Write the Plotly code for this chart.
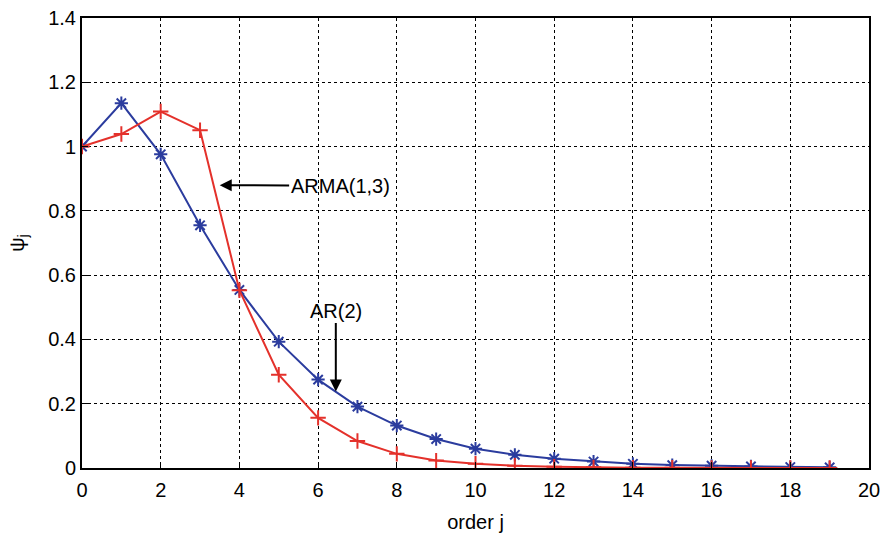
import plotly.graph_objects as go

j = list(range(20))
ar2 = [1.0, 1.135, 0.976, 0.755, 0.554, 0.393, 0.275, 0.191, 0.132, 0.09,
       0.06, 0.041, 0.029, 0.020, 0.013, 0.009, 0.007, 0.005, 0.003, 0.002]
arma13 = [1.0, 1.039, 1.109, 1.051, 0.553, 0.290, 0.156, 0.084, 0.044, 0.023,
          0.013, 0.007, 0.004, 0.002, 0.001, 0.001, 0.0, 0.0, 0.0, 0.0]
xticks = list(range(0, 21, 2))
yticks = [0, 0.2, 0.4, 0.6, 0.8, 1, 1.2, 1.4]
yticklabels = ["0", "0.2", "0.4", "0.6", "0.8", "1", "1.2", "1.4"]

BLUE = "#2b3c9e"
RED = "#e4312b"
FONT = "Liberation Sans, Arial, sans-serif"
FS = 20

fig = go.Figure()
fig.add_trace(go.Scatter(x=j, y=ar2, mode="lines+markers",
                         line=dict(color=BLUE, width=2),
                         marker=dict(symbol="asterisk-open", size=11,
                                     line=dict(color=BLUE, width=2)),
                         name="AR(2)"))
fig.add_trace(go.Scatter(x=j, y=arma13, mode="lines+markers",
                         line=dict(color=RED, width=2),
                         marker=dict(symbol="cross-thin-open", size=11,
                                     line=dict(color=RED, width=2)),
                         name="ARMA(1,3)"))

fig.add_annotation(x=3.5, y=0.88, ax=6.56, ay=0.878, axref="x", ayref="y",
                   xref="x", yref="y", text="ARMA(1,3)", showarrow=True,
                   arrowhead=2, arrowsize=1.2, arrowwidth=2, arrowcolor="black",
                   font=dict(family=FONT, size=20, color="black"))
fig.add_annotation(x=6.45, y=0.238, ax=6.45, ay=0.49, axref="x", ayref="y",
                   xref="x", yref="y", text="AR(2)", showarrow=True,
                   arrowhead=2, arrowsize=1.2, arrowwidth=2, arrowcolor="black",
                   font=dict(family=FONT, size=20, color="black"))

axis_common = dict(showline=True, linecolor="black", linewidth=2, mirror=True,
                   showgrid=True, gridcolor="black", griddash="dot", gridwidth=1,
                   ticks="inside", ticklen=6, tickcolor="black", zeroline=False,
                   automargin=False,
                   tickfont=dict(family=FONT, size=FS, color="black"))

fig.update_xaxes(range=[0, 20], tickvals=xticks, ticklabelstandoff=3,
                 title=dict(text="order j", standoff=15,
                            font=dict(family=FONT, size=FS, color="black")),
                 **axis_common)
fig.update_yaxes(range=[0, 1.4], tickvals=yticks, ticktext=yticklabels,
                 title=dict(text="ψ<sub>j</sub>", standoff=18,
                            font=dict(family=FONT, size=20, color="black")),
                 **axis_common)

fig.update_layout(width=889, height=533, showlegend=False,
                  plot_bgcolor="white", paper_bgcolor="white",
                  margin=dict(l=82, r=20, t=18, b=65),
                  font=dict(family=FONT, color="black"))

fig.write_html("out.html", config={"displayModeBar": False},
               post_script="document.body.style.margin='0px';")
